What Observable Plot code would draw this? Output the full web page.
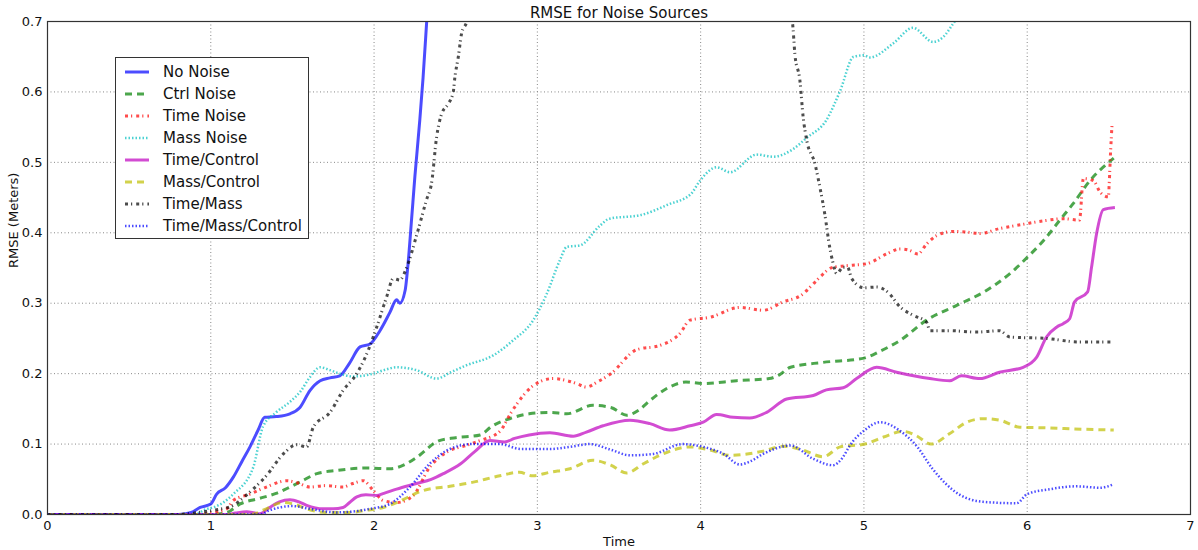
<!DOCTYPE html>
<html><head><meta charset="utf-8">
<script src="https://cdn.jsdelivr.net/npm/d3@7"></script>
<script src="https://cdn.jsdelivr.net/npm/@observablehq/plot@0.6"></script>
<style>
body{margin:0;background:#fff;font-family:"DejaVu Sans",sans-serif}
#wrap{position:relative;width:1198px;height:550px}
#legend{position:absolute;left:115px;top:57px;width:194px;height:182px;border:1px solid #333;background:#fff;box-sizing:border-box;padding-top:3px}
.row{height:22px;display:flex;align-items:center;font-size:15px;color:#111;white-space:nowrap}
.row svg{margin-left:8px;margin-right:13px}
</style></head><body>
<div id="wrap"><div id="chart"></div><div id="legend"></div></div>
<script>
const title = "RMSE for Noise Sources";
const xLabel = "Time";
const yLabel = "RMSE (Meters)";
const xTicks = [0,1,2,3,4,5,6,7];
const yTicks = [0,0.1,0.2,0.3,0.4,0.5,0.6,0.7];
const seriesNames = ["No Noise","Ctrl Noise","Time Noise","Mass Noise","Time/Control","Mass/Control","Time/Mass","Time/Mass/Control"];

const noNoise = [[0,0],[0.8,0],[0.88,0.003],[0.935,0.010],[1.0,0.015],[1.036,0.029],[1.09,0.038],[1.138,0.053],[1.19,0.075],[1.24,0.096],[1.29,0.12],[1.33,0.138],[1.4,0.139],[1.485,0.143],[1.546,0.152],[1.607,0.176],[1.67,0.19],[1.73,0.194],[1.79,0.197],[1.85,0.215],[1.914,0.238],[1.975,0.242],[2.036,0.261],[2.097,0.287],[2.138,0.305],[2.158,0.300],[2.19,0.318],[2.21,0.361],[2.23,0.42],[2.25,0.48],[2.28,0.56],[2.30,0.62],[2.322,0.699],[2.35,0.8]];
const ctrlNoise = [[0,0],[1.0,0],[1.1,0.003],[1.18,0.015],[1.30,0.023],[1.40,0.03],[1.485,0.039],[1.546,0.046],[1.65,0.058],[1.77,0.0625],[1.955,0.066],[2.097,0.065],[2.18,0.07],[2.26,0.081],[2.40,0.105],[2.5,0.109],[2.65,0.113],[2.72,0.125],[2.83,0.136],[2.95,0.143],[3.077,0.145],[3.18,0.143],[3.34,0.155],[3.45,0.152],[3.547,0.141],[3.62,0.148],[3.69,0.162],[3.81,0.181],[3.91,0.188],[4.016,0.186],[4.22,0.19],[4.42,0.193],[4.48,0.198],[4.55,0.209],[4.75,0.216],[5.0,0.222],[5.1,0.232],[5.22,0.247],[5.384,0.276],[5.568,0.297],[5.75,0.318],[5.894,0.342],[6.0,0.365],[6.1,0.389],[6.2,0.418],[6.28,0.441],[6.384,0.474],[6.53,0.506]];
const timeNoise = [[0,0],[0.9,0],[1.0,0.002],[1.097,0.008],[1.138,0.02],[1.24,0.029],[1.34,0.039],[1.465,0.048],[1.53,0.045],[1.607,0.039],[1.7,0.041],[1.81,0.039],[1.87,0.044],[1.934,0.048],[1.995,0.034],[2.056,0.02],[2.138,0.017],[2.24,0.027],[2.34,0.067],[2.40,0.081],[2.465,0.091],[2.55,0.097],[2.65,0.105],[2.77,0.118],[2.84,0.145],[2.9,0.165],[2.975,0.183],[3.097,0.193],[3.24,0.186],[3.30,0.181],[3.373,0.189],[3.445,0.199],[3.608,0.234],[3.75,0.24],[3.873,0.257],[3.935,0.276],[4.057,0.28],[4.24,0.294],[4.383,0.29],[4.506,0.302],[4.62,0.312],[4.68,0.325],[4.73,0.337],[4.81,0.351],[4.93,0.354],[5.016,0.356],[5.14,0.37],[5.22,0.377],[5.28,0.375],[5.33,0.37],[5.384,0.384],[5.445,0.396],[5.548,0.402],[5.63,0.401],[5.71,0.399],[5.83,0.406],[5.975,0.412],[6.1,0.417],[6.22,0.42],[6.32,0.418],[6.344,0.477],[6.405,0.474],[6.446,0.458],[6.497,0.451],[6.503,0.474],[6.51,0.512],[6.52,0.556]];
const massNoise = [[0,0],[0.9,0],[0.975,0.008],[1.015,0.010],[1.138,0.029],[1.26,0.067],[1.32,0.125],[1.40,0.145],[1.485,0.16],[1.55,0.175],[1.607,0.195],[1.67,0.209],[1.73,0.205],[1.79,0.2],[1.87,0.196],[1.995,0.2],[2.06,0.205],[2.138,0.209],[2.26,0.205],[2.383,0.193],[2.47,0.202],[2.567,0.212],[2.73,0.226],[2.85,0.247],[2.975,0.276],[3.057,0.313],[3.138,0.361],[3.18,0.38],[3.26,0.382],[3.383,0.41],[3.44,0.42],[3.63,0.425],[3.8,0.44],[3.94,0.455],[3.996,0.474],[4.098,0.493],[4.18,0.486],[4.343,0.511],[4.445,0.508],[4.567,0.519],[4.65,0.535],[4.77,0.56],[4.855,0.602],[4.937,0.65],[5.0,0.652],[5.037,0.649],[5.18,0.669],[5.30,0.691],[5.424,0.671],[5.486,0.678],[5.547,0.697],[5.65,0.73],[6.0,0.78],[6.53,0.85]];
const timeControl = [[0,0],[1.1,0],[1.15,0.002],[1.22,0.004],[1.27,0.002],[1.30,0.001],[1.36,0.010],[1.42,0.018],[1.485,0.021],[1.54,0.018],[1.587,0.013],[1.69,0.008],[1.75,0.008],[1.81,0.010],[1.85,0.017],[1.894,0.025],[1.95,0.028],[2.016,0.027],[2.06,0.03],[2.138,0.036],[2.26,0.044],[2.35,0.05],[2.424,0.058],[2.53,0.072],[2.62,0.09],[2.71,0.105],[2.8,0.103],[2.86,0.108],[2.95,0.113],[3.077,0.116],[3.22,0.111],[3.30,0.117],[3.403,0.126],[3.567,0.134],[3.69,0.129],[3.81,0.12],[3.935,0.126],[4.016,0.131],[4.098,0.142],[4.20,0.138],[4.30,0.137],[4.404,0.145],[4.527,0.164],[4.69,0.169],[4.77,0.177],[4.873,0.18],[4.955,0.193],[5.078,0.209],[5.2,0.202],[5.404,0.193],[5.526,0.19],[5.597,0.197],[5.71,0.193],[5.83,0.202],[5.975,0.209],[6.057,0.223],[6.118,0.252],[6.18,0.266],[6.22,0.271],[6.26,0.278],[6.29,0.302],[6.37,0.316],[6.394,0.351],[6.425,0.399],[6.466,0.433],[6.537,0.436]];
const massControl = [[0,0],[1.25,0],[1.32,0.006],[1.444,0.017],[1.52,0.014],[1.587,0.008],[1.71,0.003],[1.85,0.003],[1.95,0.006],[2.056,0.010],[2.138,0.017],[2.30,0.034],[2.465,0.04],[2.59,0.045],[2.77,0.055],[2.89,0.06],[2.97,0.055],[3.077,0.06],[3.2,0.065],[3.34,0.077],[3.45,0.07],[3.547,0.059],[3.65,0.072],[3.75,0.084],[3.935,0.096],[4.05,0.092],[4.18,0.084],[4.383,0.09],[4.506,0.097],[4.62,0.092],[4.75,0.082],[4.855,0.096],[5.006,0.1],[5.12,0.11],[5.24,0.118],[5.32,0.112],[5.41,0.1],[5.526,0.115],[5.63,0.131],[5.73,0.136],[5.83,0.134],[5.955,0.124],[6.138,0.123],[6.344,0.121],[6.53,0.12]];
const timeMass = [[0,0],[0.8,0],[0.85,0.001],[1.015,0.006],[1.138,0.013],[1.18,0.02],[1.24,0.032],[1.34,0.055],[1.444,0.086],[1.526,0.099],[1.587,0.096],[1.628,0.124],[1.73,0.145],[1.81,0.176],[1.894,0.2],[1.955,0.228],[2.016,0.266],[2.077,0.309],[2.118,0.335],[2.158,0.333],[2.2,0.351],[2.26,0.396],[2.32,0.446],[2.353,0.472],[2.383,0.536],[2.414,0.569],[2.454,0.583],[2.485,0.6],[2.495,0.621],[2.516,0.65],[2.536,0.683],[2.567,0.699],[2.65,0.8],[4.45,0.8],[4.563,0.697],[4.577,0.654],[4.608,0.616],[4.628,0.564],[4.65,0.531],[4.70,0.498],[4.73,0.465],[4.76,0.427],[4.79,0.38],[4.81,0.358],[4.833,0.342],[4.873,0.351],[4.9,0.351],[4.925,0.335],[5.0,0.322],[5.08,0.323],[5.15,0.315],[5.22,0.295],[5.3,0.283],[5.384,0.273],[5.404,0.261],[5.526,0.261],[5.69,0.259],[5.83,0.261],[5.894,0.252],[6.118,0.25],[6.32,0.245],[6.52,0.245]];
const timeMassControl = [[0,0],[1.3,0],[1.36,0.006],[1.42,0.01],[1.5,0.012],[1.607,0.008],[1.77,0.003],[1.90,0.005],[1.975,0.008],[2.097,0.015],[2.22,0.039],[2.34,0.072],[2.465,0.093],[2.6,0.1],[2.77,0.1],[2.9,0.093],[3.077,0.093],[3.2,0.096],[3.32,0.1],[3.45,0.092],[3.567,0.084],[3.71,0.086],[3.89,0.1],[4.016,0.096],[4.14,0.086],[4.24,0.071],[4.3,0.075],[4.383,0.086],[4.55,0.098],[4.69,0.079],[4.81,0.07],[4.87,0.081],[4.914,0.098],[5.0,0.119],[5.1,0.131],[5.22,0.119],[5.32,0.098],[5.42,0.065],[5.5,0.044],[5.58,0.029],[5.73,0.018],[5.935,0.016],[6.0,0.029],[6.14,0.036],[6.3,0.04],[6.446,0.038],[6.53,0.043]];

const seriesData = [noNoise, ctrlNoise, timeNoise, massNoise, timeControl, massControl, timeMass, timeMassControl];
const styles = [
  {stroke:"#0000ff", dash:null, width:3},
  {stroke:"#008000", dash:"7,5", width:3},
  {stroke:"#ff0000", dash:"3,3,1.2,4", width:3},
  {stroke:"#00bfbf", dash:"1.5,2", width:2.5},
  {stroke:"#bf00bf", dash:null, width:3},
  {stroke:"#bfbf00", dash:"7,5", width:3},
  {stroke:"#000000", dash:"3,3,1.2,4", width:3},
  {stroke:"#0000ff", dash:"1.5,2", width:2.5}
];

const rows = [];
seriesData.forEach((arr, i) => arr.forEach(([t, v]) => rows.push({series: seriesNames[i], idx: i, t, v})));

const lineMarks = seriesNames.map((name, i) => Plot.line(rows.filter(d => d.idx === i), {
  x: "t", y: "v", stroke: styles[i].stroke, strokeOpacity: 0.7, strokeWidth: styles[i].width,
  strokeDasharray: styles[i].dash || undefined, strokeLinecap: "butt", strokeLinejoin: "round",
  curve: "monotone-x", clip: true
}));

const chart = Plot.plot({
  width: 1198, height: 550,
  marginLeft: 47, marginRight: 8, marginTop: 21, marginBottom: 36,
  style: {fontFamily: "DejaVu Sans, sans-serif", fontSize: "13px", color: "#111", background: "#fff"},
  x: {domain: [0, 7], ticks: xTicks, tickSize: 0, tickPadding: 6, label: xLabel, labelAnchor: "center", labelOffset: 31, labelArrow: "none", tickFormat: d3.format("d")},
  y: {domain: [0, 0.7], ticks: yTicks, tickSize: 0, tickPadding: 5, label: null, tickFormat: d3.format(".1f")},
  marks: [
    Plot.ruleX(xTicks.slice(1, -1), {stroke: "#888", strokeDasharray: "1,2.5", strokeWidth: 1}),
    Plot.ruleY(yTicks.slice(1, -1), {stroke: "#888", strokeDasharray: "1,2.5", strokeWidth: 1}),
    ...lineMarks,
    Plot.frame({stroke: "#333", strokeWidth: 1.2}),
    Plot.text([title], {frameAnchor: "top", lineAnchor: "bottom", dy: -4, fontSize: 15, fill: "#111"}),
    Plot.text([yLabel], {frameAnchor: "left", rotate: -90, dx: -34, fontSize: 13, fill: "#111"})
  ]
});
document.getElementById("chart").appendChild(chart);

const legend = document.getElementById("legend");
seriesNames.forEach((name, i) => {
  const row = document.createElement("div");
  row.className = "row";
  const st = styles[i];
  row.innerHTML = `<svg width="26" height="10"><line x1="1" x2="25" y1="5" y2="5" stroke="${st.stroke}" stroke-opacity="0.7" stroke-width="${st.width}" ${st.dash ? `stroke-dasharray="${st.dash}"` : ""}/></svg><span>${name}</span>`;
  legend.appendChild(row);
});
</script>
</body></html>
